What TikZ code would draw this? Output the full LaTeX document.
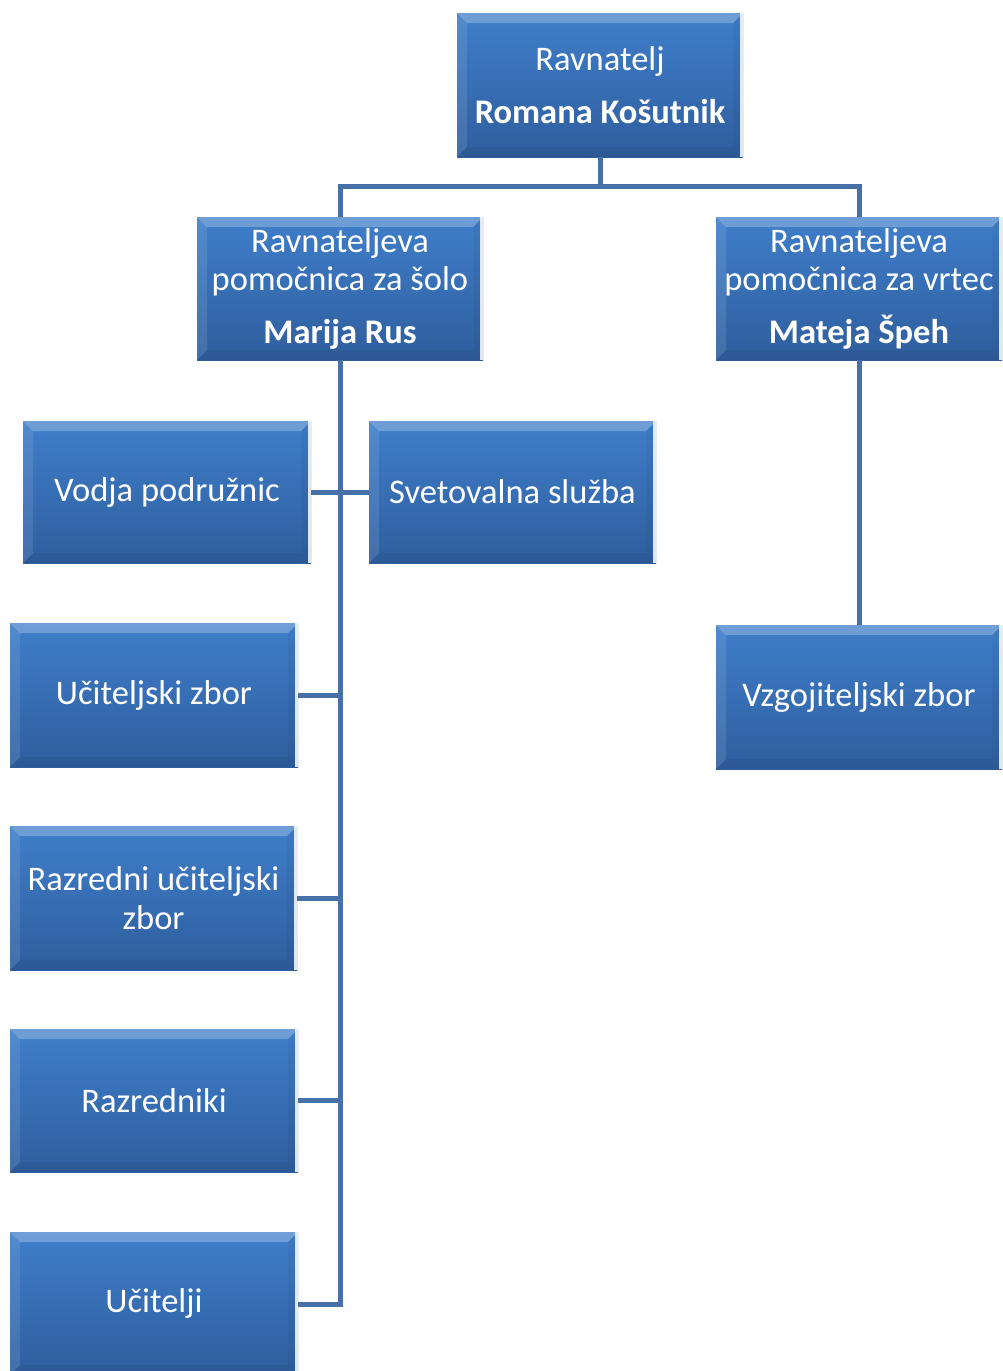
\documentclass[tikz,border=0pt]{standalone}
\usepackage{fontspec}
\setmainfont{Carlito}
\definecolor{boxtop}{RGB}{63,126,202}
\definecolor{boxbot}{RGB}{47,94,158}
\definecolor{lineblue}{RGB}{72,112,168}
\tikzset{
  x=1pt, y=-1pt,
  orgbox/.style={rectangle, inner sep=0pt, align=center, text=white,
    font=\fontsize{34.5}{38.5}\selectfont,
    top color=boxtop, bottom color=boxbot,
    path picture={
      \coordinate (nw) at (path picture bounding box.north west);
      \coordinate (ne) at (path picture bounding box.north east);
      \coordinate (sw) at (path picture bounding box.south west);
      \coordinate (se) at (path picture bounding box.south east);
      \fill[white, opacity=0.25] (nw) -- (ne) -- ([shift={(-10pt,-10pt)}]ne) -- ([shift={(10pt,-10pt)}]nw) -- cycle;
      \fill[white, opacity=0.10] (nw) -- ([shift={(10pt,-10pt)}]nw) -- ([shift={(10pt,10pt)}]sw) -- (sw) -- cycle;
      \fill[black, opacity=0.05] (sw) -- (se) -- ([shift={(-10pt,10pt)}]se) -- ([shift={(10pt,10pt)}]sw) -- cycle;
      \fill[black, opacity=0.04] (ne) -- (se) -- ([shift={(-10pt,10pt)}]se) -- ([shift={(-10pt,-10pt)}]ne) -- cycle;
      \draw[white, opacity=0.85, line width=2.5pt] ([xshift=-1.5pt]ne) -- ([xshift=-1.5pt]se);
    }},
  conn/.style={draw=lineblue, line width=5pt}
}
\begin{document}
\begin{tikzpicture}
\clip (0,0) rectangle (1002,1371);
\useasboundingbox (0,0) rectangle (1002,1371);
\node[orgbox, minimum width=286pt, minimum height=144pt] (top) at (600,85) {Ravnatelj\\[14pt]\textbf{Romana Košutnik}};
\node[orgbox, minimum width=286pt, minimum height=143pt] (pl) at (340,288.5) {Ravnateljeva\\pomočnica za šolo\\[14pt]\textbf{Marija Rus}};
\node[orgbox, minimum width=286pt, minimum height=143pt] (pr) at (859,288.5) {Ravnateljeva\\pomočnica za vrtec\\[14pt]\textbf{Mateja Špeh}};
\node[orgbox, minimum width=288pt, minimum height=142pt] (vodja) at (167,492) {Vodja podružnic};
\node[orgbox, minimum width=287pt, minimum height=142pt] (svet) at (512.5,492) {Svetovalna služba};
\node[orgbox, minimum width=288pt, minimum height=144pt] (ucz) at (154,695) {Učiteljski zbor};
\node[orgbox, minimum width=287pt, minimum height=144pt] (razu) at (153.5,898) {Razredni učiteljski\\zbor};
\node[orgbox, minimum width=288pt, minimum height=143pt] (razr) at (154,1100.5) {Razredniki};
\node[orgbox, minimum width=288pt, minimum height=143pt] (ucit) at (154,1303.5) {Učitelji};
\node[orgbox, minimum width=286pt, minimum height=144pt] (vzg) at (859,697) {Vzgojiteljski zbor};
\coordinate (bus) at (600,186);
\coordinate (spine) at (340,1304);
\draw[conn] (top.south) -- (bus);
\draw[conn] (pl.north) |- (bus) -| (pr.north);
\draw[conn] (pl.south) -- (spine) -- (spine -| ucit.east);
\draw[conn] (vodja.east) -- (svet.west);
\draw[conn] (ucz.east) -- (ucz.east -| spine);
\draw[conn] (razu.east) -- (razu.east -| spine);
\draw[conn] (razr.east) -- (razr.east -| spine);
\draw[conn] (pr.south) -- (vzg.north);
\end{tikzpicture}
\end{document}
